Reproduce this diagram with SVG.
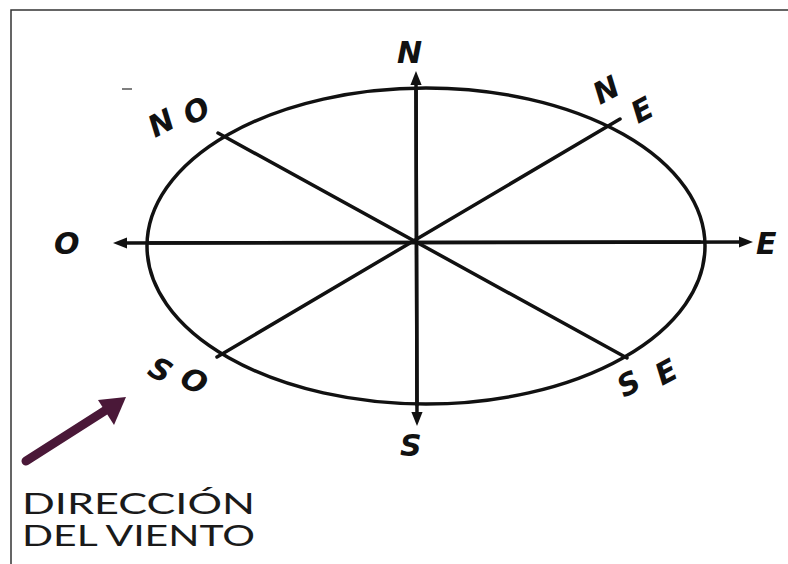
<svg xmlns="http://www.w3.org/2000/svg" width="788" height="564" viewBox="0 0 788 564">
<defs>
<style>
.ln{stroke:#111;stroke-width:3.5;fill:none;stroke-linecap:round}
.lb{font-family:"DejaVu Sans",sans-serif;font-weight:bold;font-style:italic;font-size:30px;fill:#111}
.cap{font-family:"Lato","Open Sans",sans-serif;font-size:28px;fill:#1a1a1a}
</style>
<marker id="ah" viewBox="0 0 10 10" refX="5" refY="5" markerWidth="4" markerHeight="4" orient="auto"><path d="M0,1 L10,5 L0,9 Z" fill="#111"/></marker>
</defs>
<rect width="788" height="564" fill="#fff"/>
<path d="M11,564 V10 H788" stroke="#333" stroke-width="1.5" fill="none"/>
<g id="connectors">
<ellipse cx="426" cy="246" rx="279" ry="158" class="ln"/>
<line x1="417" y1="405" x2="416" y2="78" class="ln" marker-end="url(#ah)"/>
<line x1="416" y1="90" x2="417" y2="419" class="ln" marker-end="url(#ah)"/>
<line x1="700" y1="242" x2="120" y2="243" class="ln" marker-end="url(#ah)"/>
<line x1="150" y1="243" x2="746" y2="242" class="ln" marker-end="url(#ah)"/>
<line x1="218" y1="133" x2="627" y2="358" class="ln"/>
<line x1="620" y1="119" x2="217" y2="357" class="ln"/>
<line x1="122" y1="89" x2="132" y2="89" stroke="#555" stroke-width="1.5"/>
</g>
<g id="N"><text class="lb" x="397" y="63">N</text></g>
<g id="NE"><text class="lb" transform="translate(600,105) rotate(-28)">N</text><text class="lb" transform="translate(638,124) rotate(-28)">E</text></g>
<g id="NO"><text class="lb" transform="translate(155,138) rotate(-28)">N</text><text class="lb" transform="translate(190,126) rotate(-28)">O</text></g>
<g id="O"><text class="lb" x="54" y="254">O</text></g>
<g id="E"><text class="lb" x="756" y="254">E</text></g>
<g id="SO"><text class="lb" transform="translate(146,374) rotate(28)">S</text><text class="lb" transform="translate(178,384) rotate(28)">O</text></g>
<g id="SE"><text class="lb" transform="translate(624,398) rotate(-28)">S</text><text class="lb" transform="translate(662,386) rotate(-28)">E</text></g>
<g id="S"><text class="lb" x="400" y="456">S</text></g>
<g id="wind">
<line x1="26" y1="461" x2="106" y2="410" stroke="#4a1838" stroke-width="9" stroke-linecap="round"/>
<path d="M126,397 L98,400 L114,425 Z" fill="#4a1838"/>
<text class="cap" x="22" y="514" textLength="233" lengthAdjust="spacingAndGlyphs">DIRECCIÓN</text>
<text class="cap" x="22" y="546" textLength="233" lengthAdjust="spacingAndGlyphs">DEL VIENTO</text>
</g>
</svg>
